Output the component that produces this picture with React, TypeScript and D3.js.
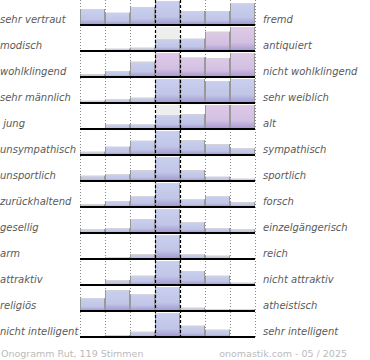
import React from "react";
import * as d3 from "d3";

const leftLabels = [
  "sehr vertraut", "modisch", "wohlklingend", "sehr männlich", " jung",
  "unsympathisch", "unsportlich", "zurückhaltend", "gesellig", "arm",
  "attraktiv", "religiös", "nicht intelligent",
];
const rightLabels = [
  "fremd", "antiquiert", "nicht wohlklingend", "sehr weiblich", "alt",
  "sympathisch", "sportlich", "forsch", "einzelgängerisch", "reich",
  "nicht attraktiv", "atheistisch", "sehr intelligent",
];
// relative vote share per bin (7 bins per row)
const votes: number[][] = [
  [16, 12.3, 18, 24, 14, 14, 21.7],
  [0, 2.3, 3.3, 11.7, 12.3, 19.3, 24],
  [3, 6, 15.3, 24, 19.5, 19, 24],
  [2.3, 3.7, 5.3, 24, 24, 22, 24],
  [0.8, 4.6, 4.6, 14, 15, 24, 24],
  [3.3, 8.3, 14.3, 24, 15, 11, 6.7],
  [5.3, 6.7, 11, 24, 11, 4.3, 2.3],
  [3, 6, 10.7, 24, 7.7, 10.7, 5],
  [3.7, 4.7, 14, 24, 10.7, 4.7, 3.7],
  [0, 1.7, 5, 24, 4.7, 3.3, 0],
  [0, 5, 9.3, 24, 14, 9.3, 2.3],
  [12.7, 21, 16.7, 24, 3.3, 2, 1.7],
  [0, 2, 5.3, 24, 11.3, 7.3, 1],
];
// bar tint: b = blue, p = pink
const tints: string[] = [
  "bbbbbbb", "bbbbbpp", "bbbpppp", "bbbbbbb", "bbbbbpp",
  "bbbbbbb", "bbbbbbb", "bbbbbbb", "bbbbbbb", "bbbbbbb",
  "bbbbbbb", "bbbbbbb", "bbbbbbb",
];
const footerLeft = "Onogramm Rut, 119 Stimmen";
const footerRight = "onomastik.com - 05 / 2025";

export default function App() {
  const W = 370, H = 360;
  const rowH = 26, firstBase = 25, barMax = 24;
  const x = d3.scaleLinear().domain([0, 7]).range([80, 255]);
  const lastBase = firstBase + rowH * (votes.length - 1);
  const font = "'DejaVu Sans', Verdana, sans-serif";
  const boundaries = d3.range(0, 8);

  return (
    <svg width={W} height={H} style={{ position: "absolute", left: 0, top: 0, background: "#fff" }}>
      <defs>
        <linearGradient id="gb" x1="0" y1="0" x2="0" y2="1">
          <stop offset="0" stopColor="#c9d0ee" />
          <stop offset="0.65" stopColor="#c1c5e7" />
          <stop offset="1" stopColor="#9f95cf" />
        </linearGradient>
        <linearGradient id="gp" x1="0" y1="0" x2="0" y2="1">
          <stop offset="0" stopColor="#dfc9e7" />
          <stop offset="0.65" stopColor="#d3c0e2" />
          <stop offset="1" stopColor="#a596d0" />
        </linearGradient>
      </defs>
      {/* middle column background */}
      {votes.map((_, i) => {
        const base = firstBase + i * rowH;
        return (
          <rect key={"bg" + i} x={x(3)} y={base - barMax} width={x(4) - x(3)} height={barMax} fill="#eeeeee" />
        );
      })}
      {/* dotted grid */}
      {boundaries.filter((b) => b !== 3 && b !== 4).map((b) => (
        <line key={"dg" + b} x1={x(b) + 0.5} x2={x(b) + 0.5} y1={0} y2={lastBase}
          stroke="#888" strokeWidth={1} strokeDasharray="1,2" />
      ))}
      {/* bars */}
      {votes.map((row, i) => {
        const base = firstBase + i * rowH;
        const y = d3.scaleLinear().domain([0, d3.max(row) as number]).range([0, barMax]);
        return (
          <g key={"r" + i}>
            {row.map((v, j) => {
              const h = y(v);
              if (h <= 0) return null;
              const x0 = x(j), x1 = x(j + 1);
              return (
                <g key={j}>
                  <rect x={x0} y={base - h} width={x1 - x0} height={h}
                    fill={tints[i][j] === "p" ? "url(#gp)" : "url(#gb)"} />
                  <line x1={x0} x2={x1} y1={base - h + 0.5} y2={base - h + 0.5} stroke="#d2d2d8" strokeWidth={1} />
                  <line x1={x0 + 0.5} x2={x0 + 0.5} y1={base - h} y2={base} stroke="#999" strokeWidth={1} />
                  <line x1={x1 - 0.5} x2={x1 - 0.5} y1={base - h} y2={base} stroke="#999" strokeWidth={1} />
                </g>
              );
            })}
          </g>
        );
      })}
      {/* dashed middle */}
      {[3, 4].map((b) => (
        <line key={"dm" + b} x1={x(b) + 0.5} x2={x(b) + 0.5} y1={0} y2={lastBase}
          stroke="#000" strokeWidth={1.2} strokeDasharray="3,2" />
      ))}
      {/* baselines */}
      {votes.map((_, i) => {
        const base = firstBase + i * rowH;
        return <line key={"bl" + i} x1={x(0)} x2={x(7)} y1={base} y2={base} stroke="#000" strokeWidth={2} />;
      })}
      {/* labels */}
      {leftLabels.map((t, i) => (
        <text key={"l" + i} x={0} y={firstBase + i * rowH - 2} fontFamily={font} fontSize={10}
          fontStyle="italic" fill="#5a5a5a" style={{ whiteSpace: "pre" }}>{t}</text>
      ))}
      {rightLabels.map((t, i) => (
        <text key={"rl" + i} x={263} y={firstBase + i * rowH - 2} fontFamily={font} fontSize={10}
          fontStyle="italic" fill="#5a5a5a">{t}</text>
      ))}
      <text x={1} y={357} fontFamily={font} fontSize={9.5} fill="#bbb">{footerLeft}</text>
      <text x={347} y={357} fontFamily={font} fontSize={9.5} fill="#bbb" textAnchor="end">{footerRight}</text>
    </svg>
  );
}
